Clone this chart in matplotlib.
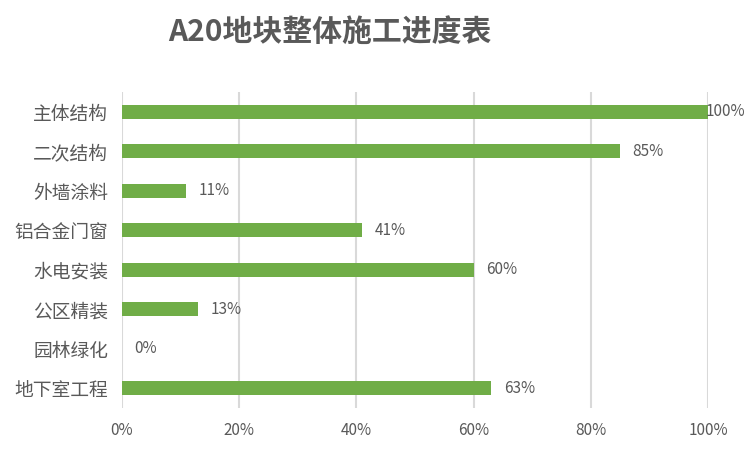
import matplotlib
matplotlib.use("Agg")
import matplotlib.pyplot as plt
from matplotlib.ticker import FuncFormatter

plt.rcParams['font.family'] = ['Noto Sans CJK SC', 'DejaVu Sans']

# categories from top to bottom
categories = ["主体结构", "二次结构", "外墙涂料", "铝合金门窗",
              "水电安装", "公区精装", "园林绿化", "地下室工程"]
progress = [100, 85, 11, 41, 60, 13, 0, 63]
ticks = [0, 20, 40, 60, 80, 100]

GREEN = "#70AD47"
TEXT = "#595959"
GRID = "#D9D9D9"

fig = plt.figure(figsize=(7.5, 4.5), dpi=100)
ax = fig.add_axes([0.1627, 0.0933, 0.7813, 0.7023])

y = list(range(len(categories)))
ax.barh(y, progress, height=0.36, color=GREEN, zorder=3)
ax.set_ylim(len(categories) - 0.5, -0.5)
ax.set_xlim(0, 100)

ax.set_yticks(y)
ax.set_yticklabels(categories, fontsize=13.5, color=TEXT)
ax.set_xticks(ticks)
ax.xaxis.set_major_formatter(FuncFormatter(lambda v, p: f"{v:.0f}%"))
ax.tick_params(axis='x', labelsize=11, colors=TEXT, length=0, pad=10)
ax.tick_params(axis='y', length=0, pad=10)

ax.grid(axis='x', color=GRID, linewidth=1.5, zorder=0)
for s in ax.spines.values():
    s.set_visible(False)

for yi, v in zip(y, progress):
    off = 9 if v < 100 else -2
    ax.annotate(f"{v}%", (v, yi), xytext=(off, 0), textcoords="offset points",
                va="center", ha="left", fontsize=11, color=TEXT,
                annotation_clip=False)

fig.text(0.44, 0.93, "A20地块整体施工进度表", ha="center", va="center",
         fontsize=21.5, fontweight="bold", color=TEXT)

fig.savefig("out.png", dpi=100)
